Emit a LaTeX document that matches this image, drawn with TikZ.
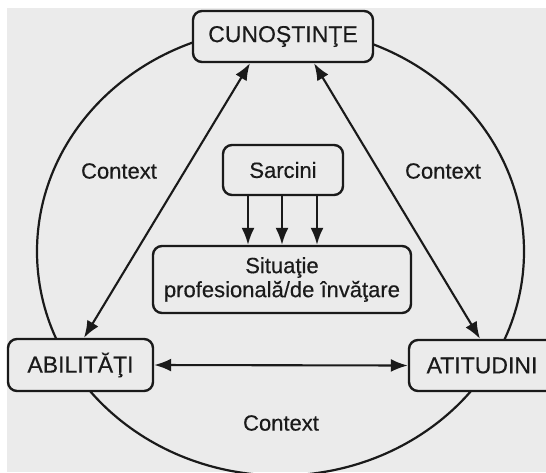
\documentclass[tikz,border=0pt]{standalone}
\usepackage{fontspec}
\setmainfont{Liberation Sans}[FakeBold=0.4]
\usetikzlibrary{arrows.meta}
\definecolor{bgc}{HTML}{EBEBEB}
\definecolor{ink}{HTML}{1A1A1A}
\begin{document}
\begin{tikzpicture}[x=1pt,y=-1pt,
  box/.style={draw=ink, line width=2.4pt, rounded corners=9pt, fill=bgc, text=ink, inner sep=0pt},
  capf/.style={font=\fontsize{23}{26}\selectfont},
  txtf/.style={font=\fontsize{22}{24}\selectfont},
  conn/.style={draw=ink, line width=2.1pt},
  tip/.style={-{Latex[length=17pt,width=13pt]}},
  dtip/.style={{Latex[length=17pt,width=13pt]}-{Latex[length=17pt,width=13pt]}}]
\useasboundingbox (0,0) rectangle (546,472);
\clip (0,0) rectangle (546,472);
\fill[white] (0,0) rectangle (546,472);
\fill[bgc] (7,8) rectangle (546,472);
\draw[ink, line width=2.2pt] (280.5,251.5) ellipse [x radius=243.5, y radius=224];

\node[box,capf,minimum width=180pt,minimum height=51pt] (cun) at (283,36.5) {CUNOŞTINŢE};
\node[box,capf,minimum width=145pt,minimum height=52pt] (abi) at (80.5,365) {ABILITĂŢI};
\node[box,capf,minimum width=146pt,minimum height=51pt] (ati) at (482,365.5) {ATITUDINI};
\node[box,txtf,minimum width=120pt,minimum height=50pt] (sar) at (283,170) {Sarcini};
\node[box,txtf,align=center,minimum width=258pt,minimum height=67pt] (sit) at (282,279.5) {Situaţie\\profesională/de învăţare};

\node[txtf,text=ink] (c1) at (119,171) {Context};
\node[txtf,text=ink] (c2) at (443,171) {Context};
\node[txtf,text=ink] (c3) at (281,423) {Context};

\draw[conn,dtip] ([xshift=-33pt]cun.south) -- ([xshift=3.5pt]abi.north);
\draw[conn,dtip] ([xshift=31pt]cun.south) -- ([xshift=-2pt]ati.north);
\draw[conn,dtip] (abi.east) -- (ati.west);
\foreach \dx/\n in {-35/a,-1/b,34/c} {
  \coordinate (t\n) at ([xshift=\dx pt]sar.south);
  \draw[conn,tip] (t\n) -- (t\n |- sit.north);
}
\end{tikzpicture}
\end{document}
